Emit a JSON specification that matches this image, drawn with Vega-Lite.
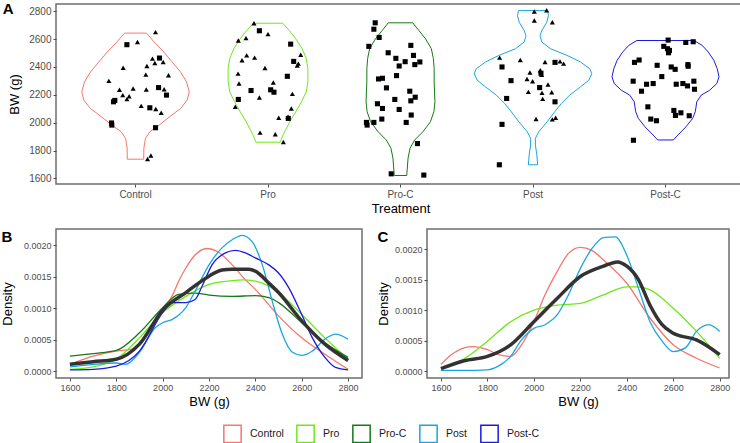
{
  "$schema": "https://vega.github.io/schema/vega-lite/v6.json",
  "background": "white",
  "padding": {"left": 0, "top": 1, "right": 0, "bottom": 0},
  "config": {
    "font": "Liberation Sans",
    "view": {"stroke": "#6e6e6e", "strokeWidth": 1.5},
    "axis": {"grid": false, "domain": false, "labelOverlap": false, "labelColor": "#4d4d4d", "labelFont": "Liberation Sans", "tickColor": "#4d4d4d", "tickSize": 3, "labelPadding": 2, "titleFont": "Liberation Sans", "titleFontWeight": "normal", "titleColor": "#000000", "titleFontSize": 13, "tickCount": 12},
    "title": {"font": "Liberation Sans", "fontSize": 15, "fontWeight": "bold", "anchor": "start", "frame": "bounds", "baseline": "top", "color": "#000000"},
    "legend": {"orient": "none", "legendX": 167, "legendY": 420, "direction": "horizontal"}
  },
  "datasets": {
    "violin": [
      {"t":"Control","i":0,"bw":2643,"off":-0.083},{"t":"Control","i":1,"bw":2579,"off":-0.141},{"t":"Control","i":2,"bw":2507,"off":-0.214},{"t":"Control","i":3,"bw":2436,"off":-0.277},{"t":"Control","i":4,"bw":2364,"off":-0.340},{"t":"Control","i":5,"bw":2293,"off":-0.385},{"t":"Control","i":6,"bw":2221,"off":-0.406},{"t":"Control","i":7,"bw":2162,"off":-0.390},{"t":"Control","i":8,"bw":2102,"off":-0.340},{"t":"Control","i":9,"bw":2043,"off":-0.258},{"t":"Control","i":10,"bw":1983,"off":-0.179},{"t":"Control","i":11,"bw":1936,"off":-0.109},{"t":"Control","i":12,"bw":1888,"off":-0.075},{"t":"Control","i":13,"bw":1817,"off":-0.063},{"t":"Control","i":14,"bw":1738,"off":-0.062},
      {"t":"Control","i":15,"bw":1738,"off":0.062},{"t":"Control","i":16,"bw":1817,"off":0.063},{"t":"Control","i":17,"bw":1888,"off":0.075},{"t":"Control","i":18,"bw":1936,"off":0.109},{"t":"Control","i":19,"bw":1983,"off":0.179},{"t":"Control","i":20,"bw":2043,"off":0.258},{"t":"Control","i":21,"bw":2102,"off":0.340},{"t":"Control","i":22,"bw":2162,"off":0.390},{"t":"Control","i":23,"bw":2221,"off":0.406},{"t":"Control","i":24,"bw":2293,"off":0.385},{"t":"Control","i":25,"bw":2364,"off":0.340},{"t":"Control","i":26,"bw":2436,"off":0.277},{"t":"Control","i":27,"bw":2507,"off":0.214},{"t":"Control","i":28,"bw":2579,"off":0.141},{"t":"Control","i":29,"bw":2643,"off":0.083},{"t":"Control","i":30,"bw":2643,"off":-0.083},
      {"t":"Pro","i":0,"bw":2714,"off":-0.111},{"t":"Pro","i":1,"bw":2662,"off":-0.161},{"t":"Pro","i":2,"bw":2602,"off":-0.210},{"t":"Pro","i":3,"bw":2531,"off":-0.258},{"t":"Pro","i":4,"bw":2460,"off":-0.289},{"t":"Pro","i":5,"bw":2388,"off":-0.301},{"t":"Pro","i":6,"bw":2293,"off":-0.301},{"t":"Pro","i":7,"bw":2221,"off":-0.289},{"t":"Pro","i":8,"bw":2150,"off":-0.252},{"t":"Pro","i":9,"bw":2079,"off":-0.210},{"t":"Pro","i":10,"bw":2007,"off":-0.165},{"t":"Pro","i":11,"bw":1924,"off":-0.119},{"t":"Pro","i":12,"bw":1860,"off":-0.091},
      {"t":"Pro","i":13,"bw":1860,"off":0.091},{"t":"Pro","i":14,"bw":1924,"off":0.119},{"t":"Pro","i":15,"bw":2007,"off":0.165},{"t":"Pro","i":16,"bw":2079,"off":0.210},{"t":"Pro","i":17,"bw":2150,"off":0.252},{"t":"Pro","i":18,"bw":2221,"off":0.289},{"t":"Pro","i":19,"bw":2293,"off":0.301},{"t":"Pro","i":20,"bw":2388,"off":0.301},{"t":"Pro","i":21,"bw":2460,"off":0.289},{"t":"Pro","i":22,"bw":2531,"off":0.258},{"t":"Pro","i":23,"bw":2602,"off":0.210},{"t":"Pro","i":24,"bw":2662,"off":0.161},{"t":"Pro","i":25,"bw":2714,"off":0.111},{"t":"Pro","i":26,"bw":2714,"off":-0.111},
      {"t":"Pro-C","i":0,"bw":2717,"off":-0.092},{"t":"Pro-C","i":1,"bw":2662,"off":-0.138},{"t":"Pro-C","i":2,"bw":2602,"off":-0.189},{"t":"Pro-C","i":3,"bw":2531,"off":-0.233},{"t":"Pro-C","i":4,"bw":2460,"off":-0.248},{"t":"Pro-C","i":5,"bw":2388,"off":-0.254},{"t":"Pro-C","i":6,"bw":2293,"off":-0.254},{"t":"Pro-C","i":7,"bw":2221,"off":-0.257},{"t":"Pro-C","i":8,"bw":2150,"off":-0.260},{"t":"Pro-C","i":9,"bw":2079,"off":-0.252},{"t":"Pro-C","i":10,"bw":2007,"off":-0.226},{"t":"Pro-C","i":11,"bw":1936,"off":-0.170},{"t":"Pro-C","i":12,"bw":1876,"off":-0.107},{"t":"Pro-C","i":13,"bw":1817,"off":-0.072},{"t":"Pro-C","i":14,"bw":1745,"off":-0.057},{"t":"Pro-C","i":15,"bw":1621,"off":-0.047},
      {"t":"Pro-C","i":16,"bw":1621,"off":0.047},{"t":"Pro-C","i":17,"bw":1745,"off":0.057},{"t":"Pro-C","i":18,"bw":1817,"off":0.072},{"t":"Pro-C","i":19,"bw":1876,"off":0.107},{"t":"Pro-C","i":20,"bw":1936,"off":0.170},{"t":"Pro-C","i":21,"bw":2007,"off":0.226},{"t":"Pro-C","i":22,"bw":2079,"off":0.252},{"t":"Pro-C","i":23,"bw":2150,"off":0.260},{"t":"Pro-C","i":24,"bw":2221,"off":0.257},{"t":"Pro-C","i":25,"bw":2293,"off":0.254},{"t":"Pro-C","i":26,"bw":2388,"off":0.254},{"t":"Pro-C","i":27,"bw":2460,"off":0.248},{"t":"Pro-C","i":28,"bw":2531,"off":0.233},{"t":"Pro-C","i":29,"bw":2602,"off":0.189},{"t":"Pro-C","i":30,"bw":2662,"off":0.138},{"t":"Pro-C","i":31,"bw":2717,"off":0.092},{"t":"Pro-C","i":32,"bw":2717,"off":-0.092},
      {"t":"Post","i":0,"bw":2805,"off":-0.109},{"t":"Post","i":1,"bw":2769,"off":-0.117},{"t":"Post","i":2,"bw":2721,"off":-0.104},{"t":"Post","i":3,"bw":2662,"off":-0.067},{"t":"Post","i":4,"bw":2626,"off":-0.053},{"t":"Post","i":5,"bw":2579,"off":-0.067},{"t":"Post","i":6,"bw":2531,"off":-0.132},{"t":"Post","i":7,"bw":2483,"off":-0.258},{"t":"Post","i":8,"bw":2436,"off":-0.358},{"t":"Post","i":9,"bw":2388,"off":-0.428},{"t":"Post","i":10,"bw":2352,"off":-0.444},{"t":"Post","i":11,"bw":2305,"off":-0.421},{"t":"Post","i":12,"bw":2257,"off":-0.358},{"t":"Post","i":13,"bw":2198,"off":-0.277},{"t":"Post","i":14,"bw":2138,"off":-0.214},{"t":"Post","i":15,"bw":2079,"off":-0.164},{"t":"Post","i":16,"bw":2007,"off":-0.107},{"t":"Post","i":17,"bw":1936,"off":-0.044},{"t":"Post","i":18,"bw":1888,"off":-0.018},{"t":"Post","i":19,"bw":1840,"off":-0.018},{"t":"Post","i":20,"bw":1769,"off":-0.029},{"t":"Post","i":21,"bw":1698,"off":-0.035},
      {"t":"Post","i":22,"bw":1698,"off":0.035},{"t":"Post","i":23,"bw":1769,"off":0.029},{"t":"Post","i":24,"bw":1840,"off":0.018},{"t":"Post","i":25,"bw":1888,"off":0.018},{"t":"Post","i":26,"bw":1936,"off":0.044},{"t":"Post","i":27,"bw":2007,"off":0.107},{"t":"Post","i":28,"bw":2079,"off":0.164},{"t":"Post","i":29,"bw":2138,"off":0.214},{"t":"Post","i":30,"bw":2198,"off":0.277},{"t":"Post","i":31,"bw":2257,"off":0.358},{"t":"Post","i":32,"bw":2305,"off":0.421},{"t":"Post","i":33,"bw":2352,"off":0.444},{"t":"Post","i":34,"bw":2388,"off":0.428},{"t":"Post","i":35,"bw":2436,"off":0.358},{"t":"Post","i":36,"bw":2483,"off":0.258},{"t":"Post","i":37,"bw":2531,"off":0.132},{"t":"Post","i":38,"bw":2579,"off":0.067},{"t":"Post","i":39,"bw":2626,"off":0.053},{"t":"Post","i":40,"bw":2662,"off":0.067},{"t":"Post","i":41,"bw":2721,"off":0.104},{"t":"Post","i":42,"bw":2769,"off":0.117},{"t":"Post","i":43,"bw":2805,"off":0.109},{"t":"Post","i":44,"bw":2805,"off":-0.109},
      {"t":"Post-C","i":0,"bw":2590,"off":-0.216},{"t":"Post-C","i":1,"bw":2555,"off":-0.277},{"t":"Post-C","i":2,"bw":2507,"off":-0.323},{"t":"Post-C","i":3,"bw":2448,"off":-0.365},{"t":"Post-C","i":4,"bw":2388,"off":-0.390},{"t":"Post-C","i":5,"bw":2329,"off":-0.404},{"t":"Post-C","i":6,"bw":2281,"off":-0.387},{"t":"Post-C","i":7,"bw":2233,"off":-0.333},{"t":"Post-C","i":8,"bw":2198,"off":-0.270},{"t":"Post-C","i":9,"bw":2150,"off":-0.236},{"t":"Post-C","i":10,"bw":2079,"off":-0.225},{"t":"Post-C","i":11,"bw":2031,"off":-0.205},{"t":"Post-C","i":12,"bw":1971,"off":-0.155},{"t":"Post-C","i":13,"bw":1912,"off":-0.094},{"t":"Post-C","i":14,"bw":1876,"off":-0.059},
      {"t":"Post-C","i":15,"bw":1876,"off":0.059},{"t":"Post-C","i":16,"bw":1912,"off":0.094},{"t":"Post-C","i":17,"bw":1971,"off":0.155},{"t":"Post-C","i":18,"bw":2031,"off":0.205},{"t":"Post-C","i":19,"bw":2079,"off":0.225},{"t":"Post-C","i":20,"bw":2150,"off":0.236},{"t":"Post-C","i":21,"bw":2198,"off":0.270},{"t":"Post-C","i":22,"bw":2233,"off":0.333},{"t":"Post-C","i":23,"bw":2281,"off":0.387},{"t":"Post-C","i":24,"bw":2329,"off":0.404},{"t":"Post-C","i":25,"bw":2388,"off":0.390},{"t":"Post-C","i":26,"bw":2448,"off":0.365},{"t":"Post-C","i":27,"bw":2507,"off":0.323},{"t":"Post-C","i":28,"bw":2555,"off":0.277},{"t":"Post-C","i":29,"bw":2590,"off":0.216},{"t":"Post-C","i":30,"bw":2590,"off":-0.216}
    ],
    "pts": [
      {"t":"Control","bw":2650,"off":0.151,"g":"tri"},{"t":"Control","bw":2560,"off":-0.065,"g":"sq"},{"t":"Control","bw":2579,"off":0.015,"g":"tri"},{"t":"Control","bw":2460,"off":0.128,"g":"tri"},{"t":"Control","bw":2464,"off":0.181,"g":"sq"},{"t":"Control","bw":2436,"off":0.209,"g":"tri"},{"t":"Control","bw":2429,"off":0.146,"g":"tri"},{"t":"Control","bw":2407,"off":0.086,"g":"tri"},{"t":"Control","bw":2395,"off":-0.093,"g":"tri"},{"t":"Control","bw":2345,"off":0.078,"g":"tri"},{"t":"Control","bw":2340,"off":0.249,"g":"tri"},{"t":"Control","bw":2300,"off":-0.201,"g":"tri"},{"t":"Control","bw":2252,"off":0.174,"g":"sq"},{"t":"Control","bw":2240,"off":0.216,"g":"tri"},{"t":"Control","bw":2236,"off":-0.121,"g":"tri"},{"t":"Control","bw":2245,"off":-0.018,"g":"tri"},{"t":"Control","bw":2238,"off":0.081,"g":"tri"},{"t":"Control","bw":2198,"off":0.234,"g":"sq"},{"t":"Control","bw":2198,"off":-0.096,"g":"tri"},{"t":"Control","bw":2190,"off":-0.048,"g":"tri"},{"t":"Control","bw":2169,"off":-0.065,"g":"tri"},{"t":"Control","bw":2160,"off":-0.156,"g":"sq"},{"t":"Control","bw":2150,"off":-0.166,"g":"sq"},{"t":"Control","bw":2121,"off":0.043,"g":"tri"},{"t":"Control","bw":2107,"off":0.108,"g":"sq"},{"t":"Control","bw":2098,"off":0.153,"g":"tri"},{"t":"Control","bw":2071,"off":0.194,"g":"tri"},{"t":"Control","bw":1998,"off":-0.181,"g":"sq"},{"t":"Control","bw":1983,"off":-0.179,"g":"sq"},{"t":"Control","bw":1964,"off":0.151,"g":"sq"},{"t":"Control","bw":1764,"off":0.116,"g":"tri"},{"t":"Control","bw":1740,"off":0.091,"g":"tri"},
      {"t":"Pro","bw":2714,"off":-0.106,"g":"tri"},{"t":"Pro","bw":2660,"off":-0.065,"g":"sq"},{"t":"Pro","bw":2636,"off":0.0,"g":"tri"},{"t":"Pro","bw":2607,"off":-0.166,"g":"tri"},{"t":"Pro","bw":2590,"off":-0.224,"g":"tri"},{"t":"Pro","bw":2564,"off":0.171,"g":"sq"},{"t":"Pro","bw":2488,"off":0.247,"g":"tri"},{"t":"Pro","bw":2483,"off":-0.161,"g":"tri"},{"t":"Pro","bw":2467,"off":-0.101,"g":"tri"},{"t":"Pro","bw":2448,"off":-0.196,"g":"tri"},{"t":"Pro","bw":2440,"off":0.194,"g":"sq"},{"t":"Pro","bw":2424,"off":0.229,"g":"tri"},{"t":"Pro","bw":2410,"off":0.221,"g":"tri"},{"t":"Pro","bw":2393,"off":-0.023,"g":"tri"},{"t":"Pro","bw":2352,"off":-0.226,"g":"tri"},{"t":"Pro","bw":2333,"off":0.146,"g":"sq"},{"t":"Pro","bw":2288,"off":0.040,"g":"tri"},{"t":"Pro","bw":2281,"off":-0.219,"g":"tri"},{"t":"Pro","bw":2236,"off":0.020,"g":"sq"},{"t":"Pro","bw":2231,"off":-0.128,"g":"sq"},{"t":"Pro","bw":2219,"off":0.045,"g":"sq"},{"t":"Pro","bw":2207,"off":0.184,"g":"tri"},{"t":"Pro","bw":2181,"off":-0.065,"g":"tri"},{"t":"Pro","bw":2167,"off":-0.224,"g":"sq"},{"t":"Pro","bw":2114,"off":-0.247,"g":"tri"},{"t":"Pro","bw":2102,"off":0.176,"g":"tri"},{"t":"Pro","bw":2036,"off":0.081,"g":"tri"},{"t":"Pro","bw":2043,"off":0.151,"g":"tri"},{"t":"Pro","bw":2031,"off":0.153,"g":"sq"},{"t":"Pro","bw":1929,"off":-0.060,"g":"tri"},{"t":"Pro","bw":1917,"off":0.055,"g":"tri"},{"t":"Pro","bw":1862,"off":0.116,"g":"tri"},
      {"t":"Pro-C","bw":2717,"off":-0.191,"g":"sq"},{"t":"Pro-C","bw":2671,"off":-0.201,"g":"sq"},{"t":"Pro-C","bw":2612,"off":-0.161,"g":"sq"},{"t":"Pro-C","bw":2548,"off":-0.239,"g":"sq"},{"t":"Pro-C","bw":2555,"off":0.078,"g":"sq"},{"t":"Pro-C","bw":2502,"off":-0.093,"g":"sq"},{"t":"Pro-C","bw":2483,"off":0.098,"g":"sq"},{"t":"Pro-C","bw":2462,"off":-0.035,"g":"sq"},{"t":"Pro-C","bw":2438,"off":0.035,"g":"sq"},{"t":"Pro-C","bw":2436,"off":0.146,"g":"sq"},{"t":"Pro-C","bw":2417,"off":0.108,"g":"sq"},{"t":"Pro-C","bw":2407,"off":-0.010,"g":"sq"},{"t":"Pro-C","bw":2338,"off":-0.030,"g":"sq"},{"t":"Pro-C","bw":2314,"off":-0.166,"g":"sq"},{"t":"Pro-C","bw":2319,"off":-0.136,"g":"sq"},{"t":"Pro-C","bw":2250,"off":-0.106,"g":"sq"},{"t":"Pro-C","bw":2226,"off":0.070,"g":"sq"},{"t":"Pro-C","bw":2183,"off":0.111,"g":"sq"},{"t":"Pro-C","bw":2167,"off":-0.043,"g":"sq"},{"t":"Pro-C","bw":2157,"off":0.078,"g":"sq"},{"t":"Pro-C","bw":2136,"off":-0.174,"g":"sq"},{"t":"Pro-C","bw":2102,"off":-0.136,"g":"sq"},{"t":"Pro-C","bw":2095,"off":-0.010,"g":"sq"},{"t":"Pro-C","bw":2055,"off":0.081,"g":"sq"},{"t":"Pro-C","bw":2026,"off":-0.141,"g":"sq"},{"t":"Pro-C","bw":2002,"off":-0.257,"g":"sq"},{"t":"Pro-C","bw":1983,"off":-0.252,"g":"sq"},{"t":"Pro-C","bw":2002,"off":-0.201,"g":"sq"},{"t":"Pro-C","bw":2002,"off":0.043,"g":"sq"},{"t":"Pro-C","bw":1850,"off":0.128,"g":"sq"},{"t":"Pro-C","bw":1633,"off":-0.070,"g":"sq"},{"t":"Pro-C","bw":1624,"off":0.176,"g":"sq"},
      {"t":"Post","bw":2798,"off":0.010,"g":"tri"},{"t":"Post","bw":2807,"off":0.103,"g":"tri"},{"t":"Post","bw":2733,"off":0.010,"g":"tri"},{"t":"Post","bw":2721,"off":0.146,"g":"tri"},{"t":"Post","bw":2467,"off":-0.252,"g":"tri"},{"t":"Post","bw":2450,"off":-0.096,"g":"tri"},{"t":"Post","bw":2436,"off":0.091,"g":"tri"},{"t":"Post","bw":2433,"off":0.166,"g":"sq"},{"t":"Post","bw":2440,"off":0.204,"g":"tri"},{"t":"Post","bw":2424,"off":0.231,"g":"tri"},{"t":"Post","bw":2400,"off":-0.234,"g":"sq"},{"t":"Post","bw":2376,"off":0.055,"g":"tri"},{"t":"Post","bw":2360,"off":-0.023,"g":"tri"},{"t":"Post","bw":2355,"off":0.060,"g":"sq"},{"t":"Post","bw":2343,"off":0.065,"g":"tri"},{"t":"Post","bw":2314,"off":-0.045,"g":"tri"},{"t":"Post","bw":2298,"off":-0.003,"g":"tri"},{"t":"Post","bw":2302,"off":-0.166,"g":"sq"},{"t":"Post","bw":2274,"off":0.113,"g":"tri"},{"t":"Post","bw":2252,"off":0.050,"g":"sq"},{"t":"Post","bw":2221,"off":-0.035,"g":"tri"},{"t":"Post","bw":2214,"off":0.068,"g":"tri"},{"t":"Post","bw":2219,"off":0.141,"g":"tri"},{"t":"Post","bw":2171,"off":0.073,"g":"tri"},{"t":"Post","bw":2174,"off":-0.199,"g":"sq"},{"t":"Post","bw":2150,"off":0.166,"g":"sq"},{"t":"Post","bw":2026,"off":0.023,"g":"tri"},{"t":"Post","bw":2024,"off":0.146,"g":"tri"},{"t":"Post","bw":2036,"off":0.171,"g":"tri"},{"t":"Post","bw":1988,"off":-0.234,"g":"sq"},{"t":"Post","bw":1698,"off":-0.254,"g":"sq"},
      {"t":"Post-C","bw":2593,"off":0.020,"g":"sq"},{"t":"Post-C","bw":2576,"off":0.153,"g":"sq"},{"t":"Post-C","bw":2581,"off":0.209,"g":"sq"},{"t":"Post-C","bw":2548,"off":-0.013,"g":"sq"},{"t":"Post-C","bw":2531,"off":0.015,"g":"sq"},{"t":"Post-C","bw":2519,"off":0.030,"g":"sq"},{"t":"Post-C","bw":2502,"off":0.023,"g":"sq"},{"t":"Post-C","bw":2433,"off":-0.234,"g":"sq"},{"t":"Post-C","bw":2450,"off":-0.199,"g":"sq"},{"t":"Post-C","bw":2412,"off":-0.063,"g":"sq"},{"t":"Post-C","bw":2400,"off":0.043,"g":"sq"},{"t":"Post-C","bw":2383,"off":0.073,"g":"sq"},{"t":"Post-C","bw":2417,"off":0.169,"g":"sq"},{"t":"Post-C","bw":2405,"off":0.171,"g":"sq"},{"t":"Post-C","bw":2331,"off":-0.028,"g":"sq"},{"t":"Post-C","bw":2298,"off":-0.244,"g":"sq"},{"t":"Post-C","bw":2276,"off":-0.143,"g":"sq"},{"t":"Post-C","bw":2281,"off":-0.093,"g":"sq"},{"t":"Post-C","bw":2276,"off":0.081,"g":"sq"},{"t":"Post-C","bw":2281,"off":0.131,"g":"sq"},{"t":"Post-C","bw":2264,"off":0.166,"g":"sq"},{"t":"Post-C","bw":2298,"off":0.214,"g":"sq"},{"t":"Post-C","bw":2240,"off":0.219,"g":"sq"},{"t":"Post-C","bw":2226,"off":-0.181,"g":"sq"},{"t":"Post-C","bw":2114,"off":-0.133,"g":"sq"},{"t":"Post-C","bw":2088,"off":0.063,"g":"sq"},{"t":"Post-C","bw":2071,"off":0.116,"g":"sq"},{"t":"Post-C","bw":2052,"off":0.075,"g":"sq"},{"t":"Post-C","bw":2050,"off":0.179,"g":"sq"},{"t":"Post-C","bw":2026,"off":-0.111,"g":"sq"},{"t":"Post-C","bw":2014,"off":-0.068,"g":"sq"},{"t":"Post-C","bw":1874,"off":-0.242,"g":"sq"}
    ],
    "densB": [
      {"t":"Control","bw":1600,"d":0.00011},{"t":"Control","bw":1700,"d":0.00024},{"t":"Control","bw":1800,"d":0.00032},{"t":"Control","bw":1867,"d":0.00035},{"t":"Control","bw":1900,"d":0.00043},{"t":"Control","bw":1968,"d":0.00077},{"t":"Control","bw":2000,"d":0.00098},{"t":"Control","bw":2040,"d":0.00119},{"t":"Control","bw":2069,"d":0.00143},{"t":"Control","bw":2100,"d":0.00164},{"t":"Control","bw":2141,"d":0.00185},{"t":"Control","bw":2191,"d":0.00195},{"t":"Control","bw":2241,"d":0.00189},{"t":"Control","bw":2300,"d":0.00169},{"t":"Control","bw":2350,"d":0.00148},{"t":"Control","bw":2400,"d":0.0013},{"t":"Control","bw":2500,"d":0.00088},{"t":"Control","bw":2600,"d":0.00053},{"t":"Control","bw":2700,"d":0.00027},{"t":"Control","bw":2800,"d":0.00003},
      {"t":"Pro","bw":1600,"d":0.00003},{"t":"Pro","bw":1700,"d":0.00007},{"t":"Pro","bw":1800,"d":0.00019},{"t":"Pro","bw":1900,"d":0.00053},{"t":"Pro","bw":2000,"d":0.00093},{"t":"Pro","bw":2100,"d":0.00119},{"t":"Pro","bw":2200,"d":0.00138},{"t":"Pro","bw":2300,"d":0.00144},{"t":"Pro","bw":2343,"d":0.00145},{"t":"Pro","bw":2400,"d":0.00143},{"t":"Pro","bw":2458,"d":0.00135},{"t":"Pro","bw":2500,"d":0.00125},{"t":"Pro","bw":2600,"d":0.0009},{"t":"Pro","bw":2700,"d":0.00053},{"t":"Pro","bw":2800,"d":0.00019},
      {"t":"Pro-C","bw":1600,"d":0.00024},{"t":"Pro-C","bw":1700,"d":0.00028},{"t":"Pro-C","bw":1800,"d":0.00033},{"t":"Pro-C","bw":1900,"d":0.00061},{"t":"Pro-C","bw":2000,"d":0.00101},{"t":"Pro-C","bw":2069,"d":0.00122},{"t":"Pro-C","bw":2141,"d":0.00124},{"t":"Pro-C","bw":2200,"d":0.00121},{"t":"Pro-C","bw":2300,"d":0.00119},{"t":"Pro-C","bw":2400,"d":0.0012},{"t":"Pro-C","bw":2458,"d":0.00117},{"t":"Pro-C","bw":2500,"d":0.00109},{"t":"Pro-C","bw":2600,"d":0.00077},{"t":"Pro-C","bw":2700,"d":0.00045},{"t":"Pro-C","bw":2800,"d":0.00022},
      {"t":"Post","bw":1600,"d":0.00007},{"t":"Post","bw":1700,"d":0.00011},{"t":"Post","bw":1800,"d":0.00013},{"t":"Post","bw":1840,"d":0.00011},{"t":"Post","bw":1900,"d":0.0003},{"t":"Post","bw":1968,"d":0.00069},{"t":"Post","bw":2000,"d":0.00077},{"t":"Post","bw":2040,"d":0.00082},{"t":"Post","bw":2100,"d":0.00101},{"t":"Post","bw":2140,"d":0.00127},{"t":"Post","bw":2200,"d":0.00169},{"t":"Post","bw":2256,"d":0.00196},{"t":"Post","bw":2300,"d":0.00209},{"t":"Post","bw":2343,"d":0.00216},{"t":"Post","bw":2386,"d":0.00206},{"t":"Post","bw":2430,"d":0.00169},{"t":"Post","bw":2473,"d":0.00111},{"t":"Post","bw":2516,"d":0.00059},{"t":"Post","bw":2560,"d":0.0003},{"t":"Post","bw":2600,"d":0.00025},{"t":"Post","bw":2646,"d":0.00032},{"t":"Post","bw":2700,"d":0.00051},{"t":"Post","bw":2746,"d":0.00059},{"t":"Post","bw":2800,"d":0.00051},
      {"t":"Post-C","bw":1600,"d":0.00002},{"t":"Post-C","bw":1700,"d":0.00003},{"t":"Post-C","bw":1800,"d":0.00008},{"t":"Post-C","bw":1900,"d":0.00032},{"t":"Post-C","bw":2000,"d":0.00093},{"t":"Post-C","bw":2040,"d":0.00109},{"t":"Post-C","bw":2100,"d":0.00109},{"t":"Post-C","bw":2140,"d":0.00114},{"t":"Post-C","bw":2170,"d":0.00135},{"t":"Post-C","bw":2213,"d":0.00169},{"t":"Post-C","bw":2271,"d":0.00188},{"t":"Post-C","bw":2314,"d":0.00192},{"t":"Post-C","bw":2357,"d":0.00188},{"t":"Post-C","bw":2400,"d":0.0018},{"t":"Post-C","bw":2458,"d":0.00169},{"t":"Post-C","bw":2500,"d":0.00156},{"t":"Post-C","bw":2545,"d":0.00132},{"t":"Post-C","bw":2600,"d":0.0009},{"t":"Post-C","bw":2646,"d":0.00053},{"t":"Post-C","bw":2700,"d":0.00022},{"t":"Post-C","bw":2746,"d":0.00006},{"t":"Post-C","bw":2800,"d":0.00002},
      {"t":"Overall","bw":1600,"d":0.00011},{"t":"Overall","bw":1700,"d":0.00015},{"t":"Overall","bw":1800,"d":0.00019},{"t":"Overall","bw":1900,"d":0.00043},{"t":"Overall","bw":2000,"d":0.00097},{"t":"Overall","bw":2100,"d":0.00125},{"t":"Overall","bw":2200,"d":0.00151},{"t":"Overall","bw":2256,"d":0.00161},{"t":"Overall","bw":2300,"d":0.00162},{"t":"Overall","bw":2372,"d":0.00162},{"t":"Overall","bw":2400,"d":0.00159},{"t":"Overall","bw":2458,"d":0.0014},{"t":"Overall","bw":2500,"d":0.00125},{"t":"Overall","bw":2600,"d":0.0008},{"t":"Overall","bw":2700,"d":0.00043},{"t":"Overall","bw":2800,"d":0.00017}
    ],
    "densC": [
      {"t":"Control","bw":1600,"d":0.00011},{"t":"Control","bw":1646,"d":0.00027},{"t":"Control","bw":1700,"d":0.00038},{"t":"Control","bw":1736,"d":0.0004},{"t":"Control","bw":1800,"d":0.00035},{"t":"Control","bw":1847,"d":0.00027},{"t":"Control","bw":1900,"d":0.00024},{"t":"Control","bw":1947,"d":0.00043},{"t":"Control","bw":2000,"d":0.00081},{"t":"Control","bw":2048,"d":0.00125},{"t":"Control","bw":2100,"d":0.00163},{"t":"Control","bw":2149,"d":0.00193},{"t":"Control","bw":2200,"d":0.00203},{"t":"Control","bw":2250,"d":0.00198},{"t":"Control","bw":2300,"d":0.00182},{"t":"Control","bw":2400,"d":0.00144},{"t":"Control","bw":2500,"d":0.00087},{"t":"Control","bw":2600,"d":0.00043},{"t":"Control","bw":2700,"d":0.00021},{"t":"Control","bw":2800,"d":0.00005},
      {"t":"Pro","bw":1600,"d":0.00005},{"t":"Pro","bw":1700,"d":0.0002},{"t":"Pro","bw":1800,"d":0.00049},{"t":"Pro","bw":1900,"d":0.00081},{"t":"Pro","bw":2000,"d":0.001},{"t":"Pro","bw":2100,"d":0.00108},{"t":"Pro","bw":2200,"d":0.00111},{"t":"Pro","bw":2300,"d":0.00125},{"t":"Pro","bw":2400,"d":0.00138},{"t":"Pro","bw":2450,"d":0.00138},{"t":"Pro","bw":2500,"d":0.00133},{"t":"Pro","bw":2600,"d":0.00103},{"t":"Pro","bw":2700,"d":0.00065},{"t":"Pro","bw":2800,"d":0.00021},
      {"t":"Post","bw":1600,"d":0.00001},{"t":"Post","bw":1700,"d":0.00001},{"t":"Post","bw":1800,"d":0.00002},{"t":"Post","bw":1847,"d":0.00008},{"t":"Post","bw":1900,"d":0.00024},{"t":"Post","bw":1947,"d":0.00051},{"t":"Post","bw":2000,"d":0.0007},{"t":"Post","bw":2048,"d":0.00076},{"t":"Post","bw":2100,"d":0.00092},{"t":"Post","bw":2149,"d":0.00125},{"t":"Post","bw":2200,"d":0.00168},{"t":"Post","bw":2250,"d":0.00201},{"t":"Post","bw":2300,"d":0.00219},{"t":"Post","bw":2350,"d":0.0022},{"t":"Post","bw":2400,"d":0.0019},{"t":"Post","bw":2450,"d":0.00136},{"t":"Post","bw":2500,"d":0.00081},{"t":"Post","bw":2552,"d":0.00049},{"t":"Post","bw":2600,"d":0.00032},{"t":"Post","bw":2652,"d":0.00038},{"t":"Post","bw":2700,"d":0.00065},{"t":"Post","bw":2753,"d":0.00076},{"t":"Post","bw":2800,"d":0.00065},
      {"t":"Overall","bw":1600,"d":0.00004},{"t":"Overall","bw":1700,"d":0.00017},{"t":"Overall","bw":1800,"d":0.00024},{"t":"Overall","bw":1900,"d":0.00043},{"t":"Overall","bw":2000,"d":0.00081},{"t":"Overall","bw":2100,"d":0.00119},{"t":"Overall","bw":2200,"d":0.00155},{"t":"Overall","bw":2300,"d":0.00172},{"t":"Overall","bw":2360,"d":0.00179},{"t":"Overall","bw":2400,"d":0.00172},{"t":"Overall","bw":2450,"d":0.0015},{"t":"Overall","bw":2500,"d":0.00108},{"t":"Overall","bw":2552,"d":0.00076},{"t":"Overall","bw":2600,"d":0.00062},{"t":"Overall","bw":2700,"d":0.00051},{"t":"Overall","bw":2800,"d":0.00027}
    ]
  },
  "resolve": {"scale": {"color": "shared"}, "legend": {"color": "shared"}},
  "spacing": 12,
  "vconcat": [
    {
      "width": 689,
      "height": 180,
      "title": {"text": "A", "offset": -13, "dx": -6},
      "layer": [
        {
          "data": {"name": "violin"},
          "mark": {"type": "line", "strokeWidth": 1, "interpolate": "linear"},
          "encoding": {
            "x": {"field": "t", "type": "nominal", "sort": ["Control", "Pro", "Pro-C", "Post", "Post-C"], "scale": {"type": "band", "paddingInner": 0, "paddingOuter": 0.1, "domain": ["Control", "Pro", "Pro-C", "Post", "Post-C"]}, "axis": {"title": "Treatment", "labelAngle": 0, "labelFontSize": 10, "titlePadding": 3, "labelOverlap": false}},
            "xOffset": {"field": "off", "type": "quantitative", "scale": {"domain": [-1, 1], "range": [-66.25, 198.75]}},
            "y": {"field": "bw", "type": "quantitative", "scale": {"domain": [1560, 2852], "nice": false, "zero": false}, "axis": {"title": "BW (g)", "values": [1600, 1800, 2000, 2200, 2400, 2600, 2800], "tickCount": 12, "format": "d", "labelFontSize": 10, "titlePadding": 7, "labelOverlap": false}},
            "color": {"field": "t", "type": "nominal", "scale": {"domain": ["Control", "Pro", "Pro-C", "Post", "Post-C"], "range": ["#F8766D", "#6FE81A", "#157A15", "#1AA6DE", "#1A1AE0"]}, "legend": {"title": null, "symbolType": "square", "symbolSize": 300, "symbolStrokeWidth": 1.5, "symbolFillColor": "white", "labelFontSize": 10.5, "labelColor": "#1a1a1a", "columnPadding": 9, "labelOffset": 8}},
            "detail": {"field": "t", "type": "nominal"},
            "order": {"field": "i", "type": "quantitative"}
          }
        },
        {
          "data": {"name": "pts"},
          "mark": {"type": "point", "filled": true, "color": "#000000", "opacity": 1},
          "encoding": {
            "x": {"field": "t", "type": "nominal", "sort": ["Control", "Pro", "Pro-C", "Post", "Post-C"]},
            "xOffset": {"field": "off", "type": "quantitative"},
            "y": {"field": "bw", "type": "quantitative"},
            "shape": {"field": "g", "type": "nominal", "scale": {"domain": ["tri", "sq"], "range": ["triangle-up", "square"]}, "legend": null},
            "size": {"value": 26}
          }
        }
      ]
    },
    {
      "spacing": 13,
      "hconcat": [
        {
          "width": 306,
          "height": 149,
          "title": {"text": "B", "offset": -16},
          "data": {"name": "densB"},
          "layer": [
            {
              "transform": [{"filter": "datum.t !== 'Overall'"}],
              "mark": {"type": "line", "strokeWidth": 1.3, "interpolate": "monotone"},
              "encoding": {
                "x": {"field": "bw", "type": "quantitative", "scale": {"domain": [1540, 2860], "nice": false, "zero": false}, "axis": {"title": "BW (g)", "values": [1600, 1800, 2000, 2200, 2400, 2600, 2800], "tickCount": 12, "format": "d", "labelFontSize": 9, "titlePadding": 3, "labelOverlap": false}},
                "y": {"field": "d", "type": "quantitative", "scale": {"domain": [-0.000108, 0.00226], "nice": false, "zero": false}, "axis": {"title": "Density", "values": [0, 0.0005, 0.001, 0.0015, 0.002], "tickCount": 12, "format": ".4f", "labelFontSize": 9, "titlePadding": 9, "labelOverlap": false}},
                "color": {"field": "t", "type": "nominal", "scale": {"domain": ["Control", "Pro", "Pro-C", "Post", "Post-C"], "range": ["#F8766D", "#6FE81A", "#157A15", "#1AA6DE", "#1A1AE0"]}, "legend": {"title": null, "symbolType": "square", "symbolSize": 300, "symbolStrokeWidth": 1.5, "symbolFillColor": "white", "labelFontSize": 10.5, "labelColor": "#1a1a1a", "columnPadding": 9, "labelOffset": 8}}
              }
            },
            {
              "transform": [{"filter": "datum.t === 'Overall'"}],
              "mark": {"type": "line", "strokeWidth": 3.5, "color": "#333333", "interpolate": "monotone"},
              "encoding": {
                "x": {"field": "bw", "type": "quantitative"},
                "y": {"field": "d", "type": "quantitative"}
              }
            }
          ]
        },
        {
          "width": 302,
          "height": 149,
          "title": {"text": "C", "offset": -16},
          "data": {"name": "densC"},
          "layer": [
            {
              "transform": [{"filter": "datum.t !== 'Overall'"}],
              "mark": {"type": "line", "strokeWidth": 1.3, "interpolate": "monotone"},
              "encoding": {
                "x": {"field": "bw", "type": "quantitative", "scale": {"domain": [1540, 2840], "nice": false, "zero": false}, "axis": {"title": "BW (g)", "values": [1600, 1800, 2000, 2200, 2400, 2600, 2800], "tickCount": 12, "format": "d", "labelFontSize": 9, "titlePadding": 3, "labelOverlap": false}},
                "y": {"field": "d", "type": "quantitative", "scale": {"domain": [-0.000114, 0.00233], "nice": false, "zero": false}, "axis": {"title": "Density", "values": [0, 0.0005, 0.001, 0.0015, 0.002], "tickCount": 12, "format": ".4f", "labelFontSize": 9, "titlePadding": 4, "labelOverlap": false}},
                "color": {"field": "t", "type": "nominal", "scale": {"domain": ["Control", "Pro", "Pro-C", "Post", "Post-C"], "range": ["#F8766D", "#6FE81A", "#157A15", "#1AA6DE", "#1A1AE0"]}, "legend": {"title": null, "symbolType": "square", "symbolSize": 300, "symbolStrokeWidth": 1.5, "symbolFillColor": "white", "labelFontSize": 10.5, "labelColor": "#1a1a1a", "columnPadding": 9, "labelOffset": 8}}
              }
            },
            {
              "transform": [{"filter": "datum.t === 'Overall'"}],
              "mark": {"type": "line", "strokeWidth": 3.5, "color": "#333333", "interpolate": "monotone"},
              "encoding": {
                "x": {"field": "bw", "type": "quantitative"},
                "y": {"field": "d", "type": "quantitative"}
              }
            }
          ]
        }
      ]
    }
  ]
}
